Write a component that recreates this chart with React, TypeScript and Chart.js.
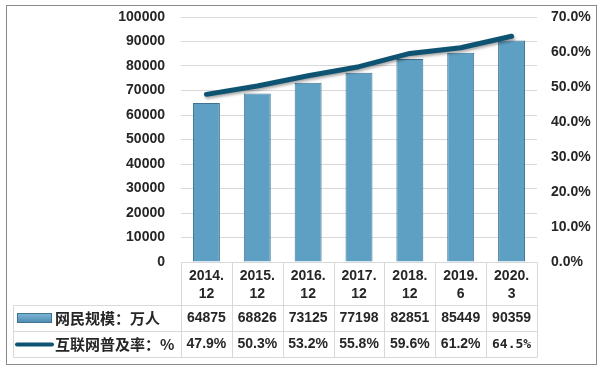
import React, { useEffect, useRef } from 'react';
import { Chart, registerables } from 'chart.js';

Chart.register(...registerables);

const catYear = ['2014.', '2015.', '2016.', '2017.', '2018.', '2019.', '2020.'];
const catSub = ['12', '12', '12', '12', '12', '6', '3'];
const netizens = [64875, 68826, 73125, 77198, 82851, 85449, 90359];
const penetration = [47.9, 50.3, 53.2, 55.8, 59.6, 61.2, 64.5];
const seriesNames = ['网民规模：万人', '互联网普及率：%'];
const leftMax = 100000;
const leftStep = 10000;
const rightMax = 70;
const rightStep = 10;

const BAR_FILL = '#5EA0C4';
const BAR_BORDER = '#3E7391';
const LINE_COLOR = '#0E5472';
const GRID = '#D9D9D9';
const TEXT = '#262626';
const NUM_FONT = 'bold 14px "Liberation Sans", Arial, sans-serif';
const CJK_FONT = 'bold 15px "Noto Sans CJK SC", sans-serif';

export default function App() {
  const ref = useRef<HTMLCanvasElement>(null);

  useEffect(() => {
    const canvas = ref.current!;

    const framePlugin = {
      id: 'frame',
      beforeDraw(chart: any) {
        const ctx = chart.ctx;
        ctx.save();
        ctx.fillStyle = '#ffffff';
        ctx.fillRect(0, 0, chart.width, chart.height);
        ctx.strokeStyle = '#8A8A8A';
        ctx.lineWidth = 1;
        ctx.strokeRect(6.5, 5.5, 590, 359);
        ctx.restore();
      },
    };

    const shadowPlugin = {
      id: 'lineShadow',
      beforeDatasetDraw(chart: any, args: any) {
        if (args.index === 0) {
          const ctx = chart.ctx;
          ctx.save();
          ctx.shadowColor = 'rgba(0,0,0,0.35)';
          ctx.shadowBlur = 3;
          ctx.shadowOffsetY = 2;
          ctx.shadowOffsetX = 1;
        }
      },
      afterDatasetDraw(chart: any, args: any) {
        if (args.index === 0) chart.ctx.restore();
      },
    };

    const tablePlugin = {
      id: 'dataTable',
      afterDraw(chart: any) {
        const ctx = chart.ctx;
        const area = chart.chartArea;
        const xs = chart.scales.x;
        const n = catYear.length;
        const w = (area.right - area.left) / n;
        const top = Math.round(area.bottom) + 0.5;
        const r1 = top + 43;
        const r2 = r1 + 26;
        const r3 = r2 + 26;
        const tLeft = 13.5;
        const right = Math.round(area.right) + 0.5;
        ctx.save();
        ctx.strokeStyle = GRID;
        ctx.lineWidth = 1;
        ctx.beginPath();
        ctx.moveTo(Math.round(area.left), top);
        ctx.lineTo(right, top);
        [r1, r2, r3].forEach((y) => {
          ctx.moveTo(tLeft, y);
          ctx.lineTo(right, y);
        });
        ctx.moveTo(tLeft, r1);
        ctx.lineTo(tLeft, r3);
        for (let k = 0; k <= n; k++) {
          const x = Math.round(area.left + k * w) + 0.5;
          ctx.moveTo(x, top);
          ctx.lineTo(x, r3);
        }
        ctx.stroke();

        // legend keys
        const g = ctx.createLinearGradient(0, r1 + 8, 0, r1 + 17);
        g.addColorStop(0, '#7DB6D6');
        g.addColorStop(1, '#4D8DB2');
        ctx.fillStyle = g;
        ctx.fillRect(17, r1 + 8, 35, 9);
        ctx.strokeStyle = BAR_BORDER;
        ctx.strokeRect(17.5, r1 + 8, 34, 9);
        ctx.strokeStyle = LINE_COLOR;
        ctx.lineWidth = 4;
        ctx.lineCap = 'round';
        ctx.beginPath();
        ctx.moveTo(17, r2 + 13);
        ctx.lineTo(52, r2 + 13);
        ctx.stroke();

        ctx.fillStyle = TEXT;
        ctx.textBaseline = 'middle';
        ctx.textAlign = 'left';
        ctx.font = CJK_FONT;
        ctx.fillText(seriesNames[0], 55, r1 + 13);
        ctx.fillText(seriesNames[1], 55, r2 + 13);

        ctx.textAlign = 'center';
        for (let i = 0; i < n; i++) {
          const cx = xs.getPixelForValue(i);
          ctx.font = NUM_FONT;
          ctx.fillText(String(netizens[i]), cx, r1 + 13);
          const last = i === n - 1;
          if (last) {
            ctx.font = 'bold 13px "DejaVu Sans Mono", monospace';
          }
          ctx.fillText(penetration[i].toFixed(1) + '%', cx, r2 + 13);
        }
        ctx.restore();
      },
    };

    const vFit = (w: number) => (scale: any) => {
      scale.width = w;
      scale.paddingTop = 0;
      scale.paddingBottom = 0;
    };

    const chart = new Chart(canvas, {
      type: 'bar',
      data: {
        labels: catYear.map((y, i) => [y, catSub[i]]),
        datasets: [
          {
            type: 'line',
            label: seriesNames[1],
            data: penetration,
            yAxisID: 'y1',
            borderColor: LINE_COLOR,
            borderWidth: 5,
            borderCapStyle: 'round',
            borderJoinStyle: 'round',
            pointRadius: 0,
            tension: 0,
            order: 0,
          } as any,
          {
            type: 'bar',
            label: seriesNames[0],
            data: netizens,
            yAxisID: 'y',
            backgroundColor: BAR_FILL,
            borderColor: BAR_BORDER,
            borderWidth: 1,
            barPercentage: 0.53,
            categoryPercentage: 1,
            order: 1,
          } as any,
        ],
      },
      options: {
        responsive: false,
        animation: false,
        devicePixelRatio: 1,
        layout: { padding: { top: 17, left: 0, right: 0, bottom: 0 } },
        plugins: {
          legend: { display: false },
          tooltip: { enabled: false },
        },
        scales: {
          x: {
            grid: { display: false, drawTicks: false },
            border: { display: false },
            ticks: {
              color: TEXT,
              font: { family: '"Liberation Sans", Arial, sans-serif', size: 14, weight: 'bold', lineHeight: 1.3 },
              padding: 5,
              maxRotation: 0,
              autoSkip: false,
            },
            afterFit(scale: any) {
              scale.height = 109;
              scale.paddingLeft = 0;
              scale.paddingRight = 0;
            },
          },
          y: {
            position: 'left',
            min: 0,
            max: leftMax,
            grid: { color: GRID, drawTicks: false },
            border: { display: false },
            ticks: {
              stepSize: leftStep,
              color: TEXT,
              padding: 16,
              font: { family: '"Liberation Sans", Arial, sans-serif', size: 14, weight: 'bold' },
              callback: (v: any) => String(v),
            },
            afterFit: vFit(181),
          },
          y1: {
            position: 'right',
            min: 0,
            max: rightMax,
            grid: { display: false, drawTicks: false },
            border: { display: false },
            ticks: {
              stepSize: rightStep,
              color: TEXT,
              padding: 14,
              font: { family: '"Liberation Sans", Arial, sans-serif', size: 14, weight: 'bold' },
              callback: (v: any) => Number(v).toFixed(1) + '%',
            },
            afterFit: vFit(63),
          },
        },
      },
      plugins: [framePlugin, shadowPlugin, tablePlugin],
    });

    return () => chart.destroy();
  }, []);

  return (
    <div style={{ position: 'absolute', left: 0, top: 0, width: 600, height: 371 }}>
      <canvas ref={ref} width={600} height={371} style={{ width: 600, height: 371, display: 'block' }} />
    </div>
  );
}
